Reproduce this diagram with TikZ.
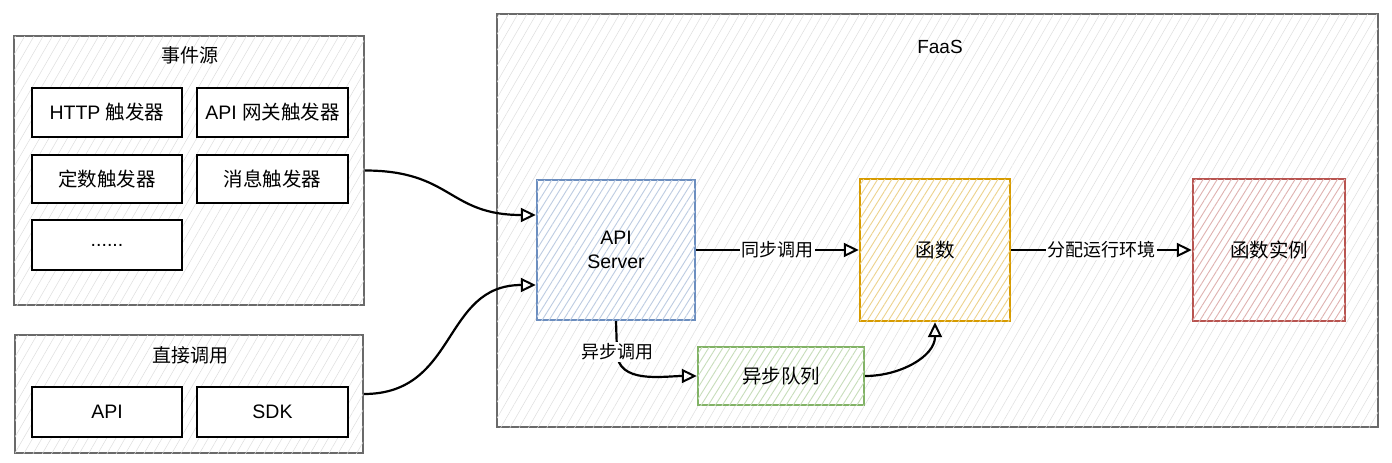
\documentclass[tikz,border=0pt]{standalone}
\usepackage{fontspec}
\setmainfont{Liberation Sans}
\newfontfamily\cjk{Noto Sans CJK SC}
\usetikzlibrary{arrows.meta,patterns.meta}
\definecolor{serverD}{HTML}{6C8EBF}
\definecolor{funcD}{HTML}{D79B00}
\definecolor{instD}{HTML}{B85450}
\definecolor{queueD}{HTML}{82B366}
\definecolor{outerD}{HTML}{6A6A6A}
\tikzset{
  outer/.style={draw=outerD, line width=1.8pt, fill=white, rectangle, inner sep=0pt,
    postaction={pattern={Lines[angle=60,distance=8pt,line width=0.5pt]}, pattern color=black!13}},
  trig/.style={draw=black, line width=2.4pt, fill=white, rectangle, inner sep=0pt,
    font=\fontsize{19.5}{22}\selectfont},
  colbox/.style={draw=#1, line width=2.4pt, fill=white, rectangle, inner sep=0pt, align=center,
    font=\fontsize{19.5}{24}\selectfont,
    postaction={pattern={Lines[angle=58,distance=6pt,line width=0.9pt]}, pattern color=#1!45!white}},
  title/.style={font=\fontsize{19}{22}\selectfont, inner sep=1pt},
  lbl/.style={font=\fontsize{18}{20}\selectfont, fill=white, inner sep=1.5pt},
  arr/.style={line width=2.2pt, -{Triangle[open, length=15pt, width=14pt, line width=2pt]}},
}
\begin{document}
\begin{tikzpicture}[x=1pt,y=-1pt]
\useasboundingbox (0,0) rectangle (1392,463);
% FaaS
\node[outer, minimum width=881pt, minimum height=413pt] (faas) at (937.5,220.5) {};
\node[title] (faast) at (940,47) {FaaS};
% event sources
\node[outer, minimum width=350pt, minimum height=269pt] (src) at (189,170.5) {};
\node[title] (srct) at (190,55) {\cjk 事件源};
\node[trig, minimum width=150pt, minimum height=49pt] (http) at (107,112.5) {HTTP {\cjk 触发器}};
\node[trig, minimum width=151pt, minimum height=49pt] (apigw) at (272.5,112.5) {API {\cjk 网关触发器}};
\node[trig, minimum width=150pt, minimum height=48pt] (timer) at (107,179) {\cjk 定数触发器};
\node[trig, minimum width=151pt, minimum height=48pt] (msg) at (272.5,179) {\cjk 消息触发器};
\node[trig, minimum width=150pt, minimum height=50pt] (more) at (107,245) {......};
% direct call
\node[outer, minimum width=348pt, minimum height=118pt] (direct) at (189,394) {};
\node[title] (directt) at (190,355) {\cjk 直接调用};
\node[trig, minimum width=150pt, minimum height=50pt] (api) at (107,412) {API};
\node[trig, minimum width=151pt, minimum height=50pt] (sdk) at (272.5,412) {SDK};
% inner nodes
\node[colbox=serverD, minimum width=158pt, minimum height=140pt] (server) at (616,250) {API\\Server};
\node[colbox=funcD, minimum width=150pt, minimum height=142pt] (func) at (935,250) {\cjk 函数};
\node[colbox=instD, minimum width=152pt, minimum height=142pt] (inst) at (1269,250) {\cjk 函数实例};
\node[colbox=queueD, minimum width=166pt, minimum height=58pt] (queue) at (781,376) {\cjk 异步队列};
% connectors
\draw[arr] (src.east) .. controls (452,170.5) and (448,215) .. (server.west |- 0,215);
\draw[arr] (direct.east) .. controls (458,394) and (442,285) .. (server.west |- 0,285);
\draw[arr] (server.east) -- node[lbl] {\cjk 同步调用} (func.west);
\draw[arr] (func.east) -- node[lbl] {\cjk 分配运行环境} (inst.west);
\draw[arr] (server.south) -- (617,352) to[out=-90,in=180] (queue.west);
\node[lbl] (asyncl) at (617,352) {\cjk 异步调用};
\draw[arr] (queue.east) to[out=0,in=-90] (func.south);
\end{tikzpicture}
\end{document}
